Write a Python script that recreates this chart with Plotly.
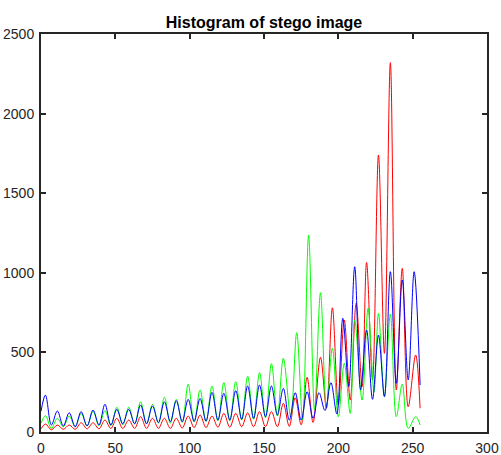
import plotly.graph_objects as go

# Local extrema (bin index, count), drawn with spline smoothing
red_x = [0, 3, 7, 11, 15, 19, 23, 27, 31, 35, 39, 43, 47, 51, 55, 59, 63, 67, 71, 75, 79, 83, 87, 91, 95,
         99, 103, 107, 111, 115, 119, 123, 127, 131, 135, 139, 143, 147, 151, 155, 159, 163, 167, 171, 175,
         179, 183, 188, 192, 196, 200, 204, 208, 212, 216, 219, 223, 227, 231, 235, 239, 243, 247, 252, 255]
red_y = [20, 50, 14, 44, 17, 44, 17, 58, 20, 58, 20, 75, 22, 86, 22, 75, 23, 96, 23, 86, 23, 86, 23, 86, 25,
         100, 28, 107, 28, 100, 30, 117, 30, 117, 33, 120, 33, 128, 33, 128, 33, 180, 35, 215, 45,
         343, 60, 469, 150, 780, 170, 703, 201, 808, 285, 1065, 327, 1740, 494, 2320, 264, 1028, 159, 484, 149]

green_x = [0, 3, 7, 11, 15, 19, 23, 27, 31, 35, 39, 43, 47, 51, 55, 59, 63, 67, 71, 75, 79, 83, 87, 91, 95,
           99, 103, 107, 111, 115, 119, 123, 127, 131, 135, 139, 143, 147, 151, 155, 159, 163, 168, 172, 176,
           180, 184, 188, 192, 196, 200, 204, 208, 211, 216, 220, 224, 227, 231, 235, 239, 243, 247, 252, 255]
green_y = [55, 102, 23, 86, 33, 100, 33, 117, 38, 130, 40, 134, 40, 155, 45, 155, 50, 190, 50, 174, 55, 218, 55, 205, 60,
           300, 62, 264, 65, 289, 70, 310, 70, 316, 75, 350, 80, 373, 90, 429, 100, 463, 96, 624, 75,
           1237, 138, 875, 159, 526, 96, 431, 117, 703, 201, 777, 253, 745, 222, 741, 96, 301, 23, 96, 44]

blue_x = [0, 3, 7, 11, 15, 19, 23, 27, 31, 35, 39, 43, 47, 51, 55, 59, 63, 67, 71, 75, 79, 83, 87, 91, 95,
          99, 103, 107, 111, 115, 119, 123, 127, 131, 135, 139, 143, 147, 151, 155, 159, 163, 167, 171, 175,
          179, 183, 187, 191, 195, 199, 203, 207, 211, 215, 219, 223, 227, 231, 235, 239, 243, 247, 251, 255]
blue_y = [130, 232, 44, 132, 38, 121, 33, 128, 38, 138, 44, 174, 44, 142, 52, 142, 52, 170, 52, 163, 60, 190, 65, 197, 65,
          205, 67, 211, 69, 249, 75, 243, 75, 260, 80, 289, 86, 295, 96, 289, 107, 274, 75, 247, 75,
          253, 86, 247, 135, 310, 113, 714, 285, 1038, 264, 641, 205, 609, 222, 1007, 306, 955, 327, 1007, 295]

x_ticks = [0, 50, 100, 150, 200, 250, 300]
y_ticks = [0, 500, 1000, 1500, 2000, 2500]

fig = go.Figure()
for xs, ys, col in [(red_x, red_y, "#ff0000"), (green_x, green_y, "#00ff00"), (blue_x, blue_y, "#0000ff")]:
    fig.add_trace(go.Scatter(x=xs, y=ys, mode="lines",
                             line=dict(color=col, width=1, shape="spline", smoothing=1.0),
                             showlegend=False, hoverinfo="skip"))

axis_common = dict(showgrid=False, zeroline=False, showline=True, linecolor="#262626", linewidth=2,
                   mirror="ticks", ticks="inside", ticklen=5, tickwidth=2, tickcolor="#262626",
                   automargin=False,
                   tickfont=dict(family="Liberation Sans, Arial, sans-serif", size=14, color="#262626"))

fig.update_xaxes(range=[0, 300], tickvals=x_ticks, ticklabelstandoff=2, **axis_common)
fig.update_yaxes(range=[0, 2500], tickvals=y_ticks, ticklabelstandoff=2, **axis_common)

fig.update_layout(
    width=501, height=455,
    margin=dict(l=41, r=14, t=34, b=23, autoexpand=False),
    plot_bgcolor="white", paper_bgcolor="white",
    title=dict(text="<b>Histogram of stego image</b>", x=0.527, xanchor="center", y=0.951, yanchor="middle",
               font=dict(family="Liberation Sans, Arial, sans-serif", size=16, color="#000000")),
)

fig.write_html("out.html", config={"displayModeBar": False},
               post_script="document.body.style.margin='0px';")
